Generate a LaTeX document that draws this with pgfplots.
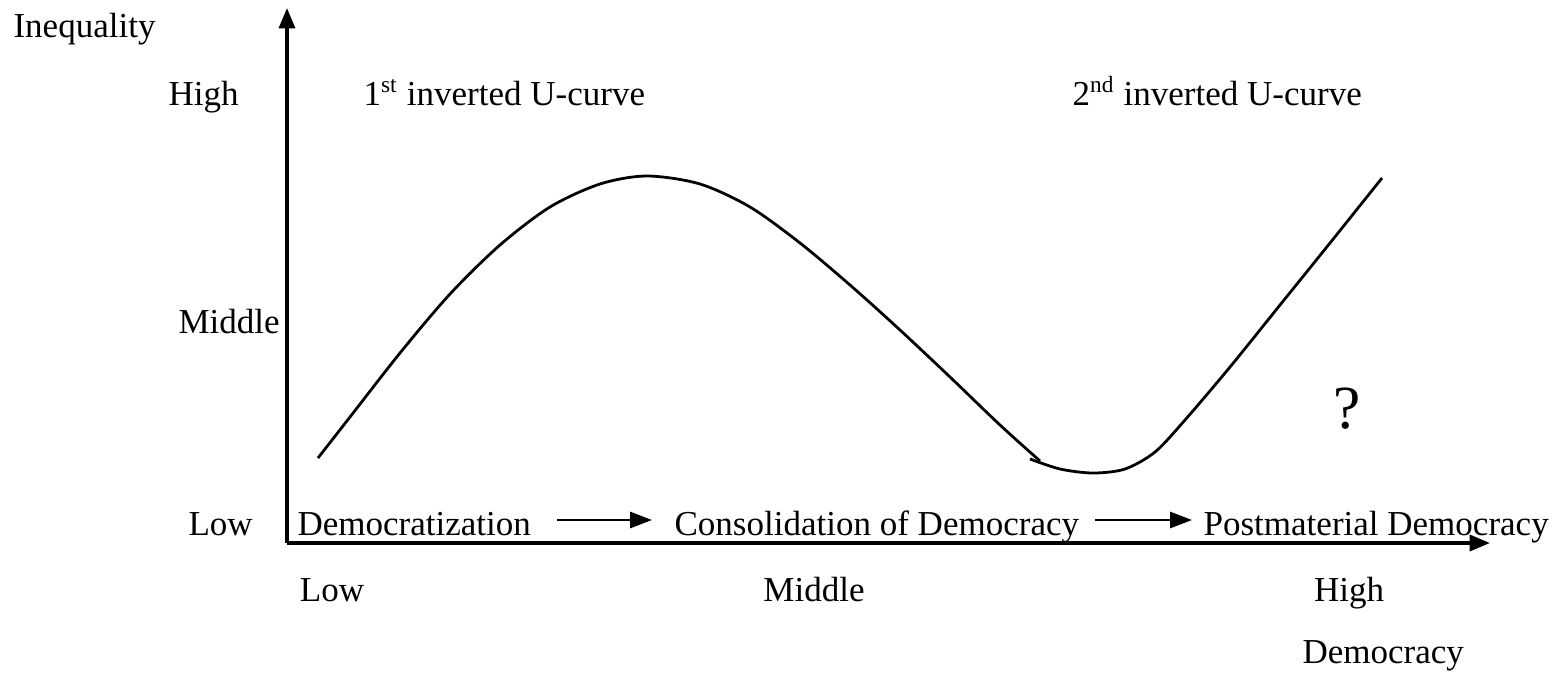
\documentclass[12pt,border=0pt]{standalone}
\usepackage{fontspec}
\setmainfont{Liberation Serif}
\usepackage{pgfplots}
\pgfplotsset{compat=1.18}
\usetikzlibrary{arrows.meta}

\begin{document}
\begin{tikzpicture}[lbl/.style={anchor=base west, inner sep=0pt}]
\begin{axis}[
  x=0.3427pt, y=0.3427pt,
  xmin=0, xmax=1203, ymin=0, ymax=535,
  axis lines=left,
  axis line style={line width=1.2pt, -{Triangle[length=7pt,width=5.5pt]}},
  xtick={45,527,1062}, xticklabels={Low,Middle,High},
  ytick=\empty,
  major tick length=0pt,
  xticklabel style={anchor=base, inner sep=0pt, yshift=-20.2pt},
  xlabel={Democracy},
  xlabel style={at={(axis description cs:0.8437,-0.2243)}, anchor=base west, inner sep=0pt},
  clip=false,
]
% first curve (descends into the trough)
\addplot[black, line width=0.95pt, smooth] coordinates {
  (31,85) (63,126) (113,190) (163,249) (213,298) (263,336) (313,359)
  (360,367) (413,359) (463,336) (513,300) (563,258) (613,213)
  (663,166) (713,118) (753,82)
};
% second curve (trough and the rise)
\addplot[black, line width=0.95pt, smooth] coordinates {
  (743,84) (773,74) (806,70) (838,74) (868,91) (898,123)
  (943,176) (993,238) (1043,300) (1095,365)
};

\path (axis cs:-287,-133) rectangle (axis cs:1273,543);

\node[lbl] at (axis cs:-274,506) {Inequality};
\node[lbl] at (axis cs:-119,438) {High};
\node[lbl] at (axis cs:-109,210) {Middle};
\node[lbl] at (axis cs:-99,8) {Low};
\node[lbl] at (axis cs:10,8) {Democratization};
\node[lbl] at (axis cs:387,8) {Consolidation of Democracy};
\node[lbl] at (axis cs:916,8) {Postmaterial Democracy};
\node[lbl] at (axis cs:76,438) {1\textsuperscript{st} inverted U-curve};
\node[lbl] at (axis cs:785,438) {2\textsuperscript{nd} inverted U-curve};
\node[lbl, font=\fontsize{21}{25}\selectfont] at (axis cs:1046,115) {?};

\draw[line width=0.9pt, -{Triangle[length=7.5pt,width=5.5pt]}] (axis cs:270,23) -- (axis cs:365,23);
\draw[line width=0.9pt, -{Triangle[length=7.5pt,width=5.5pt]}] (axis cs:808,23) -- (axis cs:905,23);
\end{axis}
\end{tikzpicture}
\end{document}
